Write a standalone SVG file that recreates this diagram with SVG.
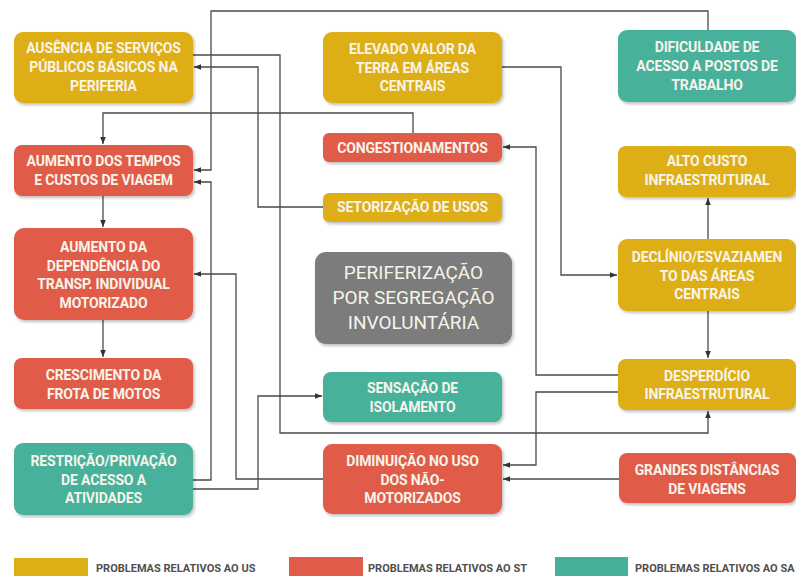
<svg xmlns="http://www.w3.org/2000/svg" width="796" height="576" viewBox="0 0 796 576">
<style>
.n text{font-family:"Roboto","Liberation Sans",sans-serif;font-weight:bold;font-size:14px;letter-spacing:-0.15px;fill:#f8f4ea;text-anchor:middle}
.n text.big{font-size:19px;font-weight:normal;letter-spacing:0}
.us{fill:#deae17}.st{fill:#e05b4a}.sa{fill:#46b19b}.gr{fill:#7b7b7b}
.n rect{filter:url(#sh)}
.c path{fill:none;stroke:#4a4a4a;stroke-width:1.3;marker-end:url(#ah)}
.lg text{font-family:"Roboto","Liberation Sans",sans-serif;font-weight:bold;font-size:11px;fill:#505050}
</style>
<defs>
<filter id="sh" x="-10%" y="-10%" width="125%" height="135%"><feDropShadow dx="1.5" dy="2" stdDeviation="1.5" flood-color="#000" flood-opacity="0.25"/></filter>
<marker id="ah" viewBox="0 0 10 10" refX="10" refY="5" markerWidth="7" markerHeight="7" orient="auto" markerUnits="userSpaceOnUse"><path d="M0,1 L10,5 L0,9 z" fill="#333"/></marker>
</defs>
<rect width="796" height="576" fill="#fff"/>
<g class="c" id="connectors">
<path d="M708,30 V11 H211 V170 H194"/>
<path d="M193,55 H280 V433 H708 V411"/>
<path d="M323,207 H258 V67 H194"/>
<path d="M413,133 V113 H103 V144"/>
<path d="M193,480 H211 V182 H194"/>
<path d="M323,479 H236 V274 H194"/>
<path d="M193,489 H258 V396 H322"/>
<path d="M502,67 H561 V275 H617"/>
<path d="M618,375 H536 V147 H503"/>
<path d="M708,311 V358"/>
<path d="M708,239 V198"/>
<path d="M618,392 H536 V465 H503"/>
<path d="M619,479 H503"/>
<path d="M103,196 V227"/>
<path d="M103,320 V357"/>
</g>
<g class="n" id="n-ausencia"><rect class="us" x="14" y="32" width="179" height="71" rx="9"/><text x="103.5" y="53">AUSÊNCIA DE SERVIÇOS</text><text x="103.5" y="72">PÚBLICOS BÁSICOS NA</text><text x="103.5" y="91">PERIFERIA</text></g>
<g class="n" id="n-tempos"><rect class="st" x="14" y="145" width="179" height="51" rx="8"/><text x="103.5" y="166">AUMENTO DOS TEMPOS</text><text x="103.5" y="185">E CUSTOS DE VIAGEM</text></g>
<g class="n" id="n-dependencia"><rect class="st" x="14" y="228" width="179" height="92" rx="10"/><text x="103.5" y="252">AUMENTO DA</text><text x="103.5" y="271">DEPENDÊNCIA DO</text><text x="103.5" y="289">TRANSP. INDIVIDUAL</text><text x="103.5" y="308">MOTORIZADO</text></g>
<g class="n" id="n-motos"><rect class="st" x="14" y="358" width="179" height="51" rx="8"/><text x="103.5" y="380">CRESCIMENTO DA</text><text x="103.5" y="399">FROTA DE MOTOS</text></g>
<g class="n" id="n-restricao"><rect class="sa" x="14" y="443" width="179" height="72" rx="9"/><text x="103.5" y="466">RESTRIÇÃO/PRIVAÇÃO</text><text x="103.5" y="485">DE ACESSO A</text><text x="103.5" y="503">ATIVIDADES</text></g>
<g class="n" id="n-elevado"><rect class="us" x="323" y="32" width="179" height="71" rx="9"/><text x="412.5" y="54">ELEVADO VALOR DA</text><text x="412.5" y="73">TERRA EM ÁREAS</text><text x="412.5" y="91">CENTRAIS</text></g>
<g class="n" id="n-congest"><rect class="st" x="323" y="133" width="179" height="29" rx="6"/><text x="412.5" y="153">CONGESTIONAMENTOS</text></g>
<g class="n" id="n-setor"><rect class="us" x="323" y="193" width="179" height="29" rx="6"/><text x="412.5" y="212">SETORIZAÇÃO DE USOS</text></g>
<g class="n" id="n-perif"><rect class="gr" x="315" y="252" width="197" height="92" rx="11"/><text class="big" x="413.5" y="279">PERIFERIZAÇÃO</text><text class="big" x="413.5" y="304">POR SEGREGAÇÃO</text><text class="big" x="413.5" y="329">INVOLUNTÁRIA</text></g>
<g class="n" id="n-sensacao"><rect class="sa" x="323" y="372" width="179" height="50" rx="8"/><text x="412.5" y="393">SENSAÇÃO DE</text><text x="412.5" y="412">ISOLAMENTO</text></g>
<g class="n" id="n-diminuicao"><rect class="st" x="323" y="444" width="179" height="70" rx="9"/><text x="412.5" y="466">DIMINUIÇÃO NO USO</text><text x="412.5" y="485">DOS NÃO-</text><text x="412.5" y="503">MOTORIZADOS</text></g>
<g class="n" id="n-dificuldade"><rect class="sa" x="618" y="30" width="178" height="72" rx="9"/><text x="707" y="52">DIFICULDADE DE</text><text x="707" y="71">ACESSO A POSTOS DE</text><text x="707" y="90">TRABALHO</text></g>
<g class="n" id="n-altocusto"><rect class="us" x="618" y="146" width="178" height="51" rx="8"/><text x="707" y="166">ALTO CUSTO</text><text x="707" y="185">INFRAESTRUTURAL</text></g>
<g class="n" id="n-declinio"><rect class="us" x="618" y="239" width="178" height="72" rx="9"/><text x="707" y="262">DECLÍNIO/ESVAZIAMEN</text><text x="707" y="281">TO DAS ÁREAS</text><text x="707" y="299">CENTRAIS</text></g>
<g class="n" id="n-desperdicio"><rect class="us" x="618" y="359" width="178" height="51" rx="8"/><text x="707" y="381">DESPERDÍCIO</text><text x="707" y="399">INFRAESTRUTURAL</text></g>
<g class="n" id="n-grandes"><rect class="st" x="619" y="453" width="177" height="50" rx="8"/><text x="707" y="475">GRANDES DISTÂNCIAS</text><text x="707" y="494">DE VIAGENS</text></g>
<g class="lg" id="legend">
<rect class="us" x="14" y="558" width="74" height="18"/><text x="96" y="572">PROBLEMAS RELATIVOS AO US</text>
<rect class="st" x="289" y="557" width="74" height="19"/><text x="368" y="572">PROBLEMAS RELATIVOS AO ST</text>
<rect class="sa" x="555" y="557" width="73" height="19"/><text x="635" y="572">PROBLEMAS RELATIVOS AO SA</text>
</g>
</svg>
